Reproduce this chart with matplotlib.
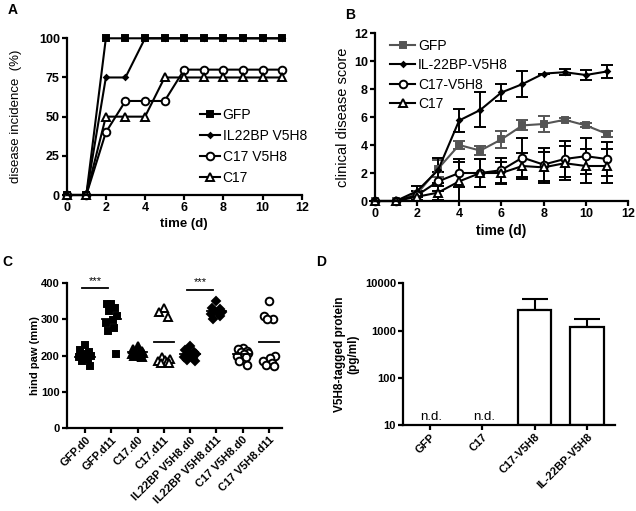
import numpy as np
import matplotlib
matplotlib.use("Agg")
import matplotlib.pyplot as plt

plt.rcParams["font.family"] = ["Liberation Sans", "DejaVu Sans"]
plt.rcParams["axes.linewidth"] = 1.6
plt.rcParams["xtick.major.width"] = 1.6
plt.rcParams["ytick.major.width"] = 1.6
plt.rcParams["xtick.major.size"] = 3.5
plt.rcParams["ytick.major.size"] = 3.5

# ---- panel A: incidence ----
days = list(range(12))
inc_gfp = [0, 0, 100, 100, 100, 100, 100, 100, 100, 100, 100, 100]
inc_il22 = [0, 0, 75, 75, 100, 100, 100, 100, 100, 100, 100, 100]
inc_c17v = [0, 0, 40, 60, 60, 60, 80, 80, 80, 80, 80, 80]
inc_c17 = [0, 0, 50, 50, 50, 75, 75, 75, 75, 75, 75, 75]

# ---- panel B: clinical score (mean, sem) ----
sc_gfp = [0, 0, 0.5, 2.3, 4.0, 3.6, 4.4, 5.4, 5.5, 5.8, 5.4, 4.8]
se_gfp = [0, 0, 0.2, 0.6, 0.3, 0.3, 0.6, 0.35, 0.55, 0.1, 0.15, 0.2]
sc_il22 = [0, 0, 0.7, 2.2, 5.75, 6.5, 7.75, 8.35, 9.1, 9.2, 9.0, 9.25]
se_il22 = [0, 0, 0.4, 0.9, 0.85, 1.25, 0.6, 0.9, 0.0, 0.2, 0.35, 0.45]
sc_c17v = [0, 0, 0.4, 1.4, 2.0, 2.0, 2.2, 3.1, 2.6, 3.0, 3.2, 3.0]
se_c17v = [0, 0, 0.3, 0.7, 1.0, 1.0, 0.9, 1.4, 1.2, 1.3, 1.3, 1.2]
sc_c17 = [0, 0, 0.3, 0.6, 1.4, 2.0, 2.0, 2.5, 2.4, 2.7, 2.5, 2.5]
se_c17 = [0, 0, 0.2, 0.5, 1.4, 1.0, 0.8, 0.9, 1.1, 1.2, 1.2, 1.2]

# ---- panel C: hind paw ----
paw_groups = ["GFP.d0", "GFP.d11", "C17.d0", "C17.d11",
              "IL22BP V5H8.d0", "IL22BP V5H8.d11", "C17 V5H8.d0", "C17 V5H8.d11"]
paw_gfp_d0 = [230, 215, 210, 205, 200, 200, 195, 190, 185, 170]
paw_gfp_d11 = [341, 341, 330, 324, 310, 298, 290, 275, 268, 204]
paw_c17_d0 = [225, 218, 212, 210, 208, 205, 203, 200, 198, 196]
paw_c17_d11 = [330, 320, 305, 195, 190, 187, 185, 182, 180, 178]
paw_il22_d0 = [225, 215, 210, 207, 203, 200, 197, 192, 188, 185]
paw_il22_d11 = [350, 332, 328, 322, 320, 318, 315, 310, 300]
paw_c17v_d0 = [220, 217, 213, 210, 207, 203, 200, 195, 185, 175]
paw_c17v_d11 = [350, 310, 302, 300, 200, 192, 186, 180, 175, 170]
paw_means = [197, 300, 210, 237, 205, 322, 205, 237]

# ---- panel D: V5H8 protein ----
prot_groups = ["GFP", "C17", "C17-V5H8", "IL-22BP-V5H8"]
prot_vals = [np.nan, np.nan, 2750, 1200]
prot_err = [0, 0, 1850, 560]

W, H = 636, 511
fig = plt.figure(figsize=(W / 100, H / 100), dpi=100)


def px_axes(left, right, top, bottom):
    return fig.add_axes([left / W, 1 - bottom / H, (right - left) / W, (bottom - top) / H])


def clean(ax):
    ax.spines["top"].set_visible(False)
    ax.spines["right"].set_visible(False)
    for lab in ax.get_xticklabels() + ax.get_yticklabels():
        lab.set_fontweight("bold")


# panel A
axA = px_axes(66.7, 301.7, 38.3, 195)
styles = [(inc_gfp, "s", "black", 5, "GFP"),
          (inc_il22, "D", "black", 2.5, "IL22BP V5H8"),
          (inc_c17v, "o", "white", 5.5, "C17 V5H8"),
          (inc_c17, "^", "white", 5.5, "C17")]
for vals, m, fc, ms, lab in styles:
    axA.plot(days, vals, marker=m, color="black", mfc=fc, mec="black", mew=1.4,
             ms=ms, lw=1.5, label=lab, clip_on=False)
axA.set_xlim(0, 12)
axA.set_ylim(0, 100)
axA.set_xticks(range(0, 13, 2))
axA.set_yticks([0, 25, 50, 75, 100])
axA.tick_params(labelsize=9, pad=1.5)
axA.set_xlabel("time (d)", fontsize=9.5, fontweight="bold", labelpad=3)
axA.set_ylabel("disease incidence  (%)", fontsize=9.5, labelpad=12)
axA.legend(loc="upper left", bbox_to_anchor=(0.545, 0.59), frameon=False, fontsize=10,
           handlelength=1.4, handletextpad=0.2, labelspacing=0.5, borderaxespad=0)
clean(axA)
fig.text(13 / W, 1 - 10 / H, "A", fontsize=10, fontweight="bold", va="center", ha="center")

# panel B
axB = px_axes(374.7, 628, 33, 201)
bstyles = [(sc_gfp, se_gfp, "s", "#555555", "#555555", 5, "GFP"),
           (sc_il22, se_il22, "D", "black", "black", 2.5, "IL-22BP-V5H8"),
           (sc_c17v, se_c17v, "o", "black", "white", 5.5, "C17-V5H8"),
           (sc_c17, se_c17, "^", "black", "white", 5.5, "C17")]
for vals, err, m, col, fc, ms, lab in bstyles:
    axB.errorbar(days, vals, yerr=err, marker=m, color=col, mfc=fc, mec=col, mew=1.4,
                 ms=ms, lw=1.5, elinewidth=1.4, capsize=4.3, capthick=1.4,
                 label=lab, clip_on=False)
axB.set_xlim(0, 12)
axB.set_ylim(0, 12)
axB.set_xticks(range(0, 13, 2))
axB.set_yticks(range(0, 13, 2))
axB.tick_params(labelsize=9, pad=1.5)
axB.set_xlabel("time (d)", fontsize=10, fontweight="bold", labelpad=3)
axB.set_ylabel("clinical disease score", fontsize=10.5, labelpad=3)
hB, lB = axB.get_legend_handles_labels()
hB = [h[0] for h in hB]
axB.legend(hB, lB, loc="upper left", bbox_to_anchor=(0.04, 1.0), frameon=False, fontsize=10,
           handlelength=1.8, handletextpad=0.2, labelspacing=0.4, borderaxespad=0)
clean(axB)
fig.text(350 / W, 1 - 15 / H, "B", fontsize=10, fontweight="bold", va="center", ha="center")

# panel C
axC = px_axes(66.7, 282, 283, 428)
paw_data = [paw_gfp_d0, paw_gfp_d11, paw_c17_d0, paw_c17_d11,
            paw_il22_d0, paw_il22_d11, paw_c17v_d0, paw_c17v_d11]
paw_mk = [("s", "black"), ("s", "black"), ("^", "black"), ("^", "white"),
          ("D", "black"), ("D", "black"), ("o", "white"), ("o", "white")]
jit = np.array([0.0, -0.18, 0.15, -0.08, 0.22, 0.05, -0.22, 0.12, -0.12, 0.18])
for i, (vals, (m, fc)) in enumerate(zip(paw_data, paw_mk)):
    xs = i + jit[:len(vals)]
    ms = 5 if m == "s" else (4 if m == "D" else 5.5)
    axC.plot(xs, vals, ls="none", marker=m, mfc=fc, mec="black", mew=1.4, ms=ms)
    axC.plot([i - 0.37, i + 0.37], [paw_means[i]] * 2, color="black", lw=1.3)
for i0, ysig in [(0, 385), (4, 382)]:
    axC.plot([i0 - 0.1, i0 + 0.88], [ysig, ysig], color="black", lw=1.3, clip_on=False)
    axC.text(i0 + 0.39, ysig + 6, "***", ha="center", va="bottom", fontsize=8)
axC.set_xlim(-0.7, 7.5)
axC.set_ylim(0, 400)
axC.set_yticks([0, 100, 200, 300, 400])
axC.set_xticks(range(len(paw_groups)))
axC.set_xticklabels(paw_groups, rotation=45, ha="right", rotation_mode="anchor")
axC.tick_params(labelsize=8, pad=1.5)
axC.set_ylabel("hind paw (mm)", fontsize=8, fontweight="bold", labelpad=1)
clean(axC)
fig.text(7 / W, 1 - 262 / H, "C", fontsize=10, fontweight="bold", va="center", ha="center")

# panel D
axD = px_axes(403, 614.7, 283.3, 425)
xd = np.arange(len(prot_groups))
axD.set_yscale("log")
axD.bar(xd, prot_vals, width=0.64, color="white", edgecolor="black", linewidth=1.6,
        bottom=10, zorder=2)
for x, v, e in zip(xd, prot_vals, prot_err):
    if np.isfinite(v):
        axD.errorbar(x, v, yerr=[[0], [e]], color="black", elinewidth=1.5, capsize=9.5,
                     capthick=1.5, zorder=1)
    else:
        axD.text(x + 0.03, 11, "n.d.", ha="center", va="bottom", fontsize=9.5)
axD.set_ylim(10, 10000)
axD.set_xlim(-0.51, 3.53)
axD.set_yticks([10, 100, 1000, 10000])
axD.set_yticklabels(["10", "100", "1000", "10000"])
axD.minorticks_off()
axD.set_xticks(xd)
axD.set_xticklabels(prot_groups, rotation=45, ha="right", rotation_mode="anchor")
axD.tick_params(labelsize=8, pad=1.5)
axD.set_ylabel("V5H8-tagged protein\n(pg/ml)", fontsize=8.5, fontweight="bold", labelpad=4)
clean(axD)
fig.text(321 / W, 1 - 262 / H, "D", fontsize=10, fontweight="bold", va="center", ha="center")

fig.savefig("out.png", dpi=100)
